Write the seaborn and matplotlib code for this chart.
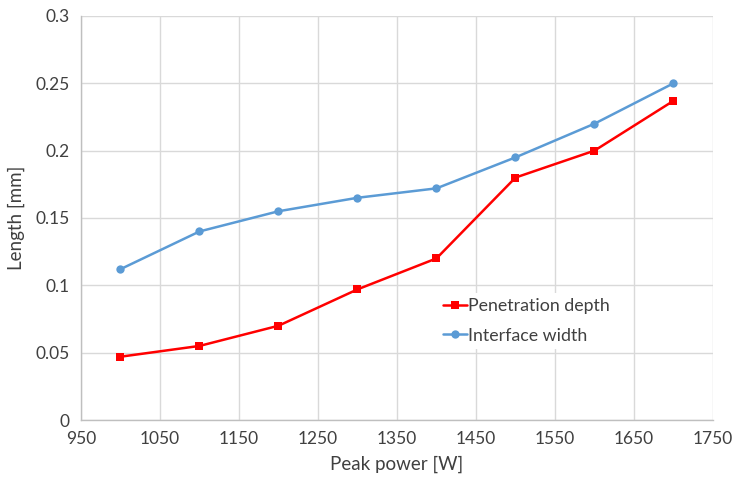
import matplotlib
matplotlib.use("Agg")
import matplotlib.pyplot as plt
import seaborn as sns
import pandas as pd

power = [1000, 1100, 1200, 1300, 1400, 1500, 1600, 1700]
penetration_depth = [0.047, 0.055, 0.070, 0.097, 0.120, 0.180, 0.200, 0.237]
interface_width = [0.112, 0.140, 0.155, 0.165, 0.172, 0.195, 0.220, 0.250]
x_ticks = [950, 1050, 1150, 1250, 1350, 1450, 1550, 1650, 1750]
y_ticks = [0, 0.05, 0.1, 0.15, 0.2, 0.25, 0.3]
y_tick_labels = ["0", "0.05", "0.1", "0.15", "0.2", "0.25", "0.3"]

sns.set_style("white")
plt.rcParams['font.family'] = ['Lato', 'DejaVu Sans']

fig = plt.figure(figsize=(7.33, 4.83), dpi=100)
ax = fig.add_axes([0.1105, 0.1304, 0.8622, 0.8366])

df = pd.DataFrame({"power": power + power,
                   "value": penetration_depth + interface_width,
                   "series": ["Penetration depth"] * len(power) + ["Interface width"] * len(power)})

sns.lineplot(data=df[df.series == "Penetration depth"], x="power", y="value", ax=ax,
             color="#ff0000", marker="s", markersize=6, markeredgewidth=0, linewidth=1.8,
             label="Penetration depth")
sns.lineplot(data=df[df.series == "Interface width"], x="power", y="value", ax=ax,
             color="#5b9bd5", marker="o", markersize=6, markeredgewidth=0, linewidth=1.8,
             label="Interface width")

ax.set_xlim(950, 1750)
ax.set_ylim(0, 0.3)
ax.set_xticks(x_ticks)
ax.set_yticks(y_ticks)
ax.set_yticklabels(y_tick_labels)
ax.tick_params(axis="both", length=0, labelsize=12.5, colors="#404040", pad=8)
ax.grid(True, color="#d9d9d9", linewidth=1)
ax.set_axisbelow(True)
for s in ["top", "right"]:
    ax.spines[s].set_visible(False)
for s in ["left", "bottom"]:
    ax.spines[s].set_color("#bfbfbf")
    ax.spines[s].set_linewidth(1)

ax.set_xlabel("Peak power [W]", fontsize=13.5, color="#404040", labelpad=6)
ax.set_ylabel("Length [mm]", fontsize=13.5, color="#404040", labelpad=8)

leg = ax.legend(loc="center left", bbox_to_anchor=(0.565, 0.245), frameon=True, fontsize=12.8,
                handlelength=1.3, handletextpad=0.1, labelspacing=0.75, borderpad=0.3,
                borderaxespad=0)
leg.get_frame().set_facecolor("white")
leg.get_frame().set_edgecolor("none")
leg.get_frame().set_alpha(1)
for t in leg.get_texts():
    t.set_color("#404040")

fig.savefig("out.png", dpi=100, facecolor="white")
